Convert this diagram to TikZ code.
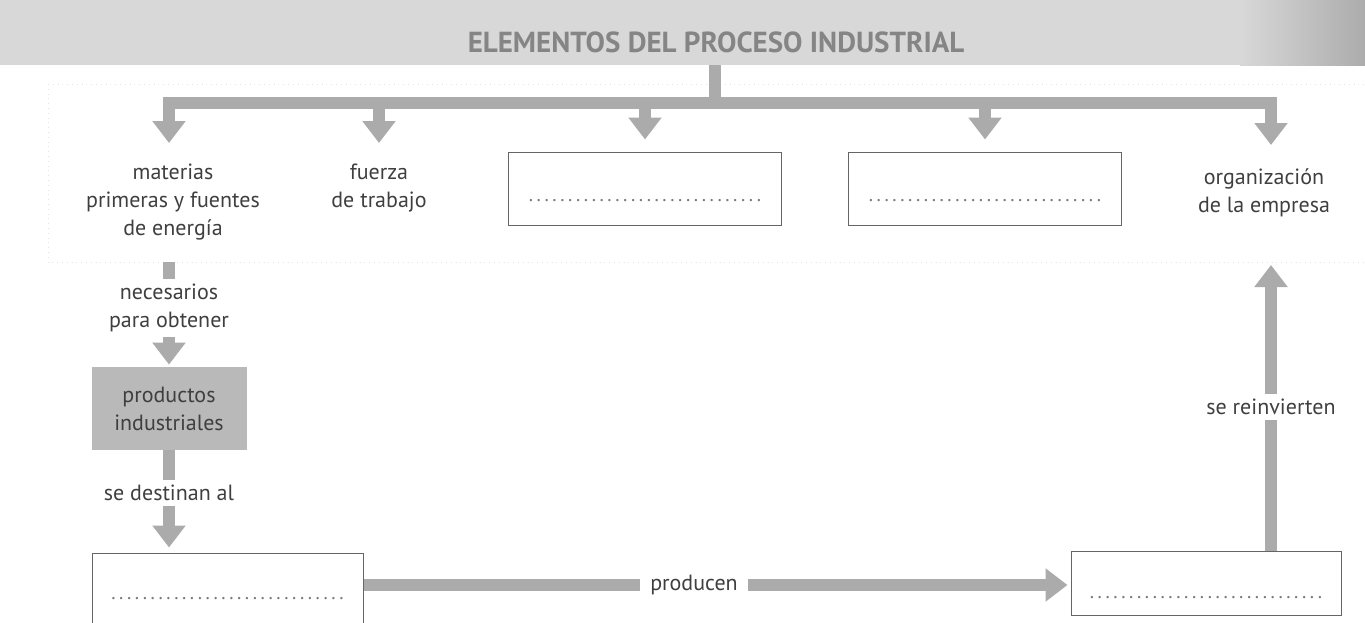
\documentclass[tikz,border=0pt]{standalone}
\usepackage{fontspec}
\setmainfont{PT Sans}
\usetikzlibrary{arrows.meta}
\definecolor{arrowgray}{HTML}{ABABAB}
\definecolor{txtgray}{HTML}{3F3F3F}
\definecolor{bandgray}{HTML}{D8D8D8}
\definecolor{titlegray}{HTML}{858585}
\definecolor{boxfill}{HTML}{B9B9B9}
\definecolor{dotgray}{HTML}{7A7A7A}
\newcommand{\blankline}[1]{\raisebox{-#1}[0pt][0pt]{\foreach \d in {1,...,30}{\makebox[3.93pt]{.}}}}

\begin{document}
\begin{tikzpicture}[x=0.5pt, y=-0.5pt,
        txt/.style={text=txtgray, font=\fontsize{11}{14}\selectfont, align=center, inner sep=2.5pt},
        blank/.style={draw=txtgray!80, line width=0.5pt, text=dotgray, font=\fontsize{10}{10}\selectfont, inner sep=0pt},
        stem/.style={draw=arrowgray, line width=5.75pt},
        flow/.style={stem, -{Triangle[width=16pt, length=11pt]}}]
        	\useasboundingbox (0,0) rectangle (1365,622);
        	\clip (0,0) rectangle (1365,622);
        	% Title band:
        	\fill[bandgray] (0,0) rectangle (1365,65);
        	\shade[left color=bandgray, right color=gray!65] (1240,0) rectangle (1365,65);
        	\node[font=\bfseries\fontsize{14.5}{16}\selectfont, text=titlegray] (title) at (716,42) {ELEMENTOS DEL PROCESO INDUSTRIAL};
        	\draw[gray!22, dotted] (48,84) rectangle (1380,262);
        	% Rail and top arrows:
        	\coordinate (foot) at (715,65);
        	\coordinate (hub) at (715,103);
        	\coordinate (rail-l) at (169,103);
        	\coordinate (rail-r) at (1271,103);
        	\draw[stem] (foot) -- (hub);
        	\draw[stem, line cap=rect] (rail-l) -- (rail-r);
        	\node[txt, anchor=north] (materias) at (173,159){materias\\primeras y fuentes\\de energía};
        	\node[txt, anchor=north] (fuerza) at (379,159){fuerza\\de trabajo};
        	\node[blank, minimum width=136.5pt, minimum height=36.5pt] (boxc) at (645,188.5){\blankline{6.5pt}};
        	\node[blank, minimum width=136.5pt, minimum height=36.5pt] (boxd) at (985,188.5){\blankline{6.5pt}};
        	\node[txt, anchor=north] (empresa) at (1264,163){organización\\de la empresa};
        	\draw[flow] (rail-l) -- ++(0,40);
        	\draw[flow, shorten >=8pt] (hub -| fuerza) -- (fuerza.north);
        	\draw[flow, shorten >=6pt] (hub -| boxc) -- (boxc.north);
        	\draw[flow, shorten >=6pt] (hub -| boxd) -- (boxd.north);
        	\draw[flow] (rail-r) -- ++(0,42);
        	% Left chain:
        	\coordinate (drop) at (169,262);
        	\node[txt] (obtener) at (169,308){necesarios\\para obtener};
        	\node[txt, fill=boxfill, minimum width=77.5pt, minimum height=41.5pt] (productos) at (169,408.5){productos\\industriales};
        	\node[txt] (destinan) at (169,493){se destinan al};
        	\node[blank, minimum width=135.5pt, minimum height=38.5pt] (boxbl) at (227.5,591.5){\blankline{4pt}};
        	\draw[stem] (drop) -- (obtener.north);
        	\draw[flow, shorten >=1pt] (obtener.south) -- (productos.north);
        	\draw[stem] (productos.south) -- (destinan.north);
        	\draw[flow, shorten >=2.5pt] (destinan.south) -- (destinan.south |- boxbl.north);
        	% Bottom and right:
        	\node[txt, inner xsep=5pt] (producen) at (694,585){producen};
        	\node[blank, minimum width=135pt, minimum height=32pt] (boxbr) at (1206,583){\blankline{7.5pt}};
        	\node[txt] (reinv) at (1271,407){se reinvierten};
        	\coordinate (rise) at (1271,265);
        	\draw[stem] (boxbl.east |- producen) -- (producen.west);
        	\draw[flow, shorten >=1.5pt] (producen.east) -- (producen.east -| boxbr.west);
        	\draw[stem] (reinv.south |- boxbr.north) -- (reinv.south);
        	\draw[flow] (reinv.north) -- (rise);
\end{tikzpicture}
\end{document}
